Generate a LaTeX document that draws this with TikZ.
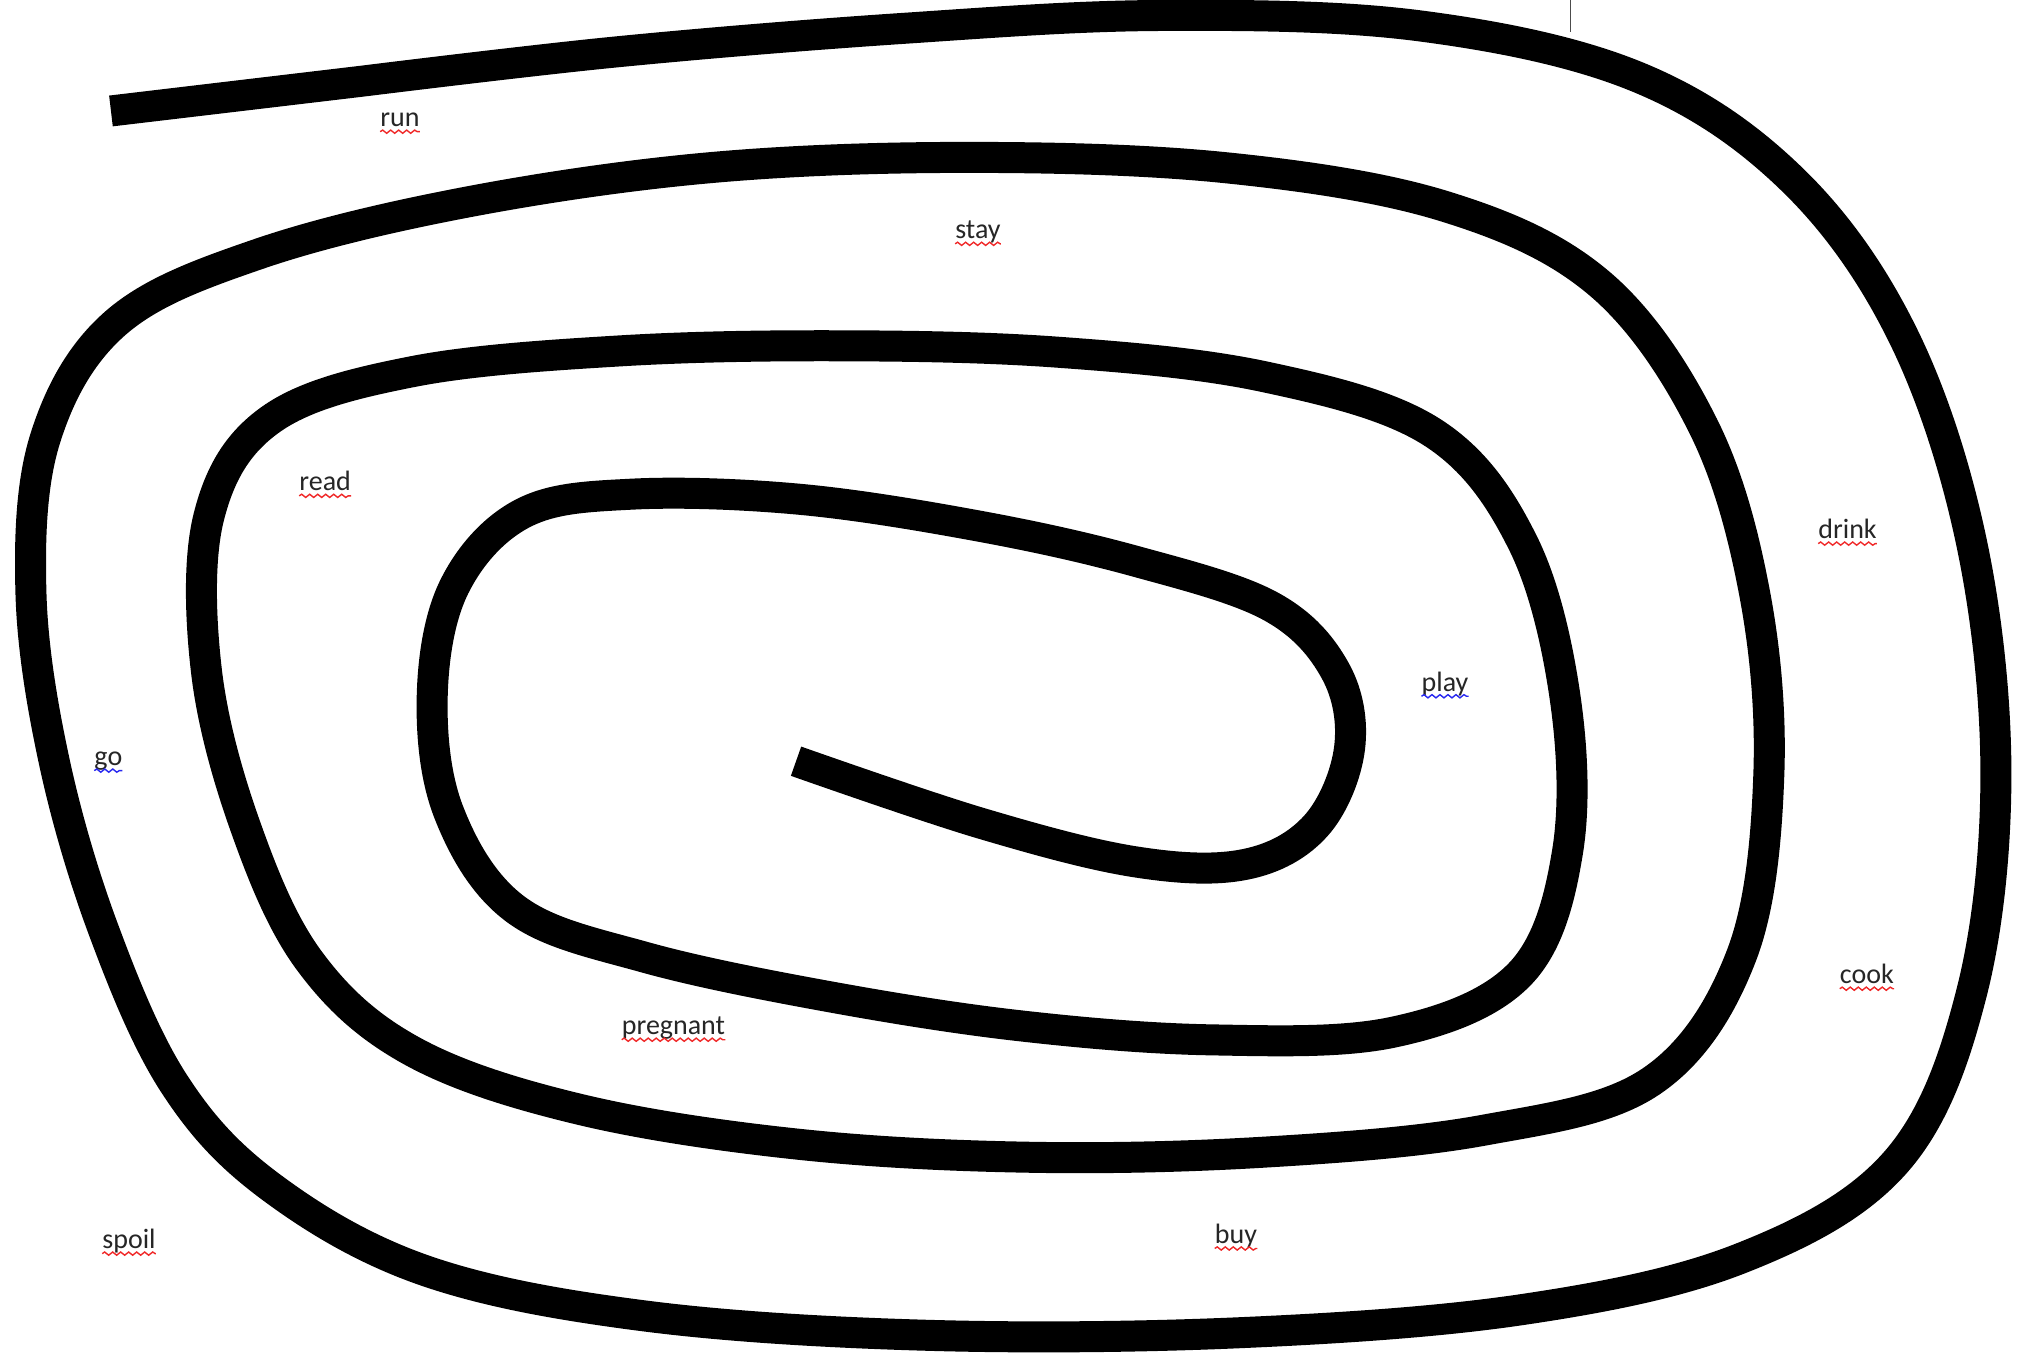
\documentclass[tikz,border=0pt]{standalone}
\usepackage{fontspec}
\setmainfont{Carlito}
\usetikzlibrary{decorations.pathmorphing}
\definecolor{spellred}{RGB}{240,40,40}
\definecolor{spellblue}{RGB}{40,40,240}
\begin{document}
\begin{tikzpicture}[x=1.2902pt,y=-1.2902pt,
  spiralline/.style={line width=31pt, line cap=butt, line join=round},
  word/.style={font=\fontsize{28}{32}\selectfont, inner sep=0pt, text=black!85},
  squiggle/.style={line width=1.4pt, decorate, decoration={snake, amplitude=1.6pt, segment length=8pt}},
]
\useasboundingbox (0,0) rectangle (1568,1049);
\fill[white] (0,0) rectangle (1568,1049);

% the spiral
\draw[spiralline] (86,86) -- (280,63) plot[smooth, tension=0.6] coordinates {
 (280,63) (480,40) (700,22) (900,12) (1100,20) (1270,60) (1390,140) (1475,260)
 (1528,420) (1547,600) (1528,770) (1470,900) (1350,975) (1180,1015) (960,1033)
 (720,1035) (500,1020) (330,985) (210,920) (135,840) (80,720) (42,590) (24,460)
 (35,340) (90,250) (200,197) (360,157) (550,130) (750,122) (950,130) (1120,160)
 (1240,220)
 (1320,330) (1360,460) (1371,600) (1350,740) (1280,838) (1150,876) (980,893)
 (800,897) (620,887) (450,860) (320,815) (240,745) (190,640) (160,520) (162,400)
 (210,325) (320,288) (480,272) (650,268) (820,273) (980,292) (1110,335)
 (1180,420) (1213,540) (1215,660) (1178,755) (1080,800) (940,806) (790,795)
 (640,772) (500,742) (400,705) (348,630) (335,540) (352,455) (405,398) (490,383)
 (620,387) (760,408) (880,435) (985,470)
 (1035,520) (1046,580) (1020,640) (965,670) (880,668) (760,638) (617,590)};

% small mark at top
\draw[line width=1.2pt, black!70] (1217,0) coordinate (mk1) -- (1217,25) coordinate (mk2);

% words
\node[word] (run) at (310,93) {run};
\node[word] (stay) at (758,180) {stay};
\node[word] (read) at (252,373) {read};
\node[word] (drink) at (1432,410) {drink};
\node[word] (play) at (1120,530) {play};
\node[word] (go) at (84,590) {go};
\node[word] (cook) at (1447,755) {cook};
\node[word] (pregnant) at (522,797) {pregnant};
\node[word] (spoil) at (100,962) {spoil};
\node[word] (buy) at (958,958) {buy};

% spelling squiggles
\foreach \w in {run,stay,read,drink,cook,pregnant,spoil,buy}
  \draw[squiggle, spellred] ([yshift=-5pt]\w.base west) -- ([yshift=-5pt]\w.base east);
\foreach \w in {play,go}
  \draw[squiggle, spellblue] ([yshift=-5pt]\w.base west) -- ([yshift=-5pt]\w.base east);
\end{tikzpicture}
\end{document}
